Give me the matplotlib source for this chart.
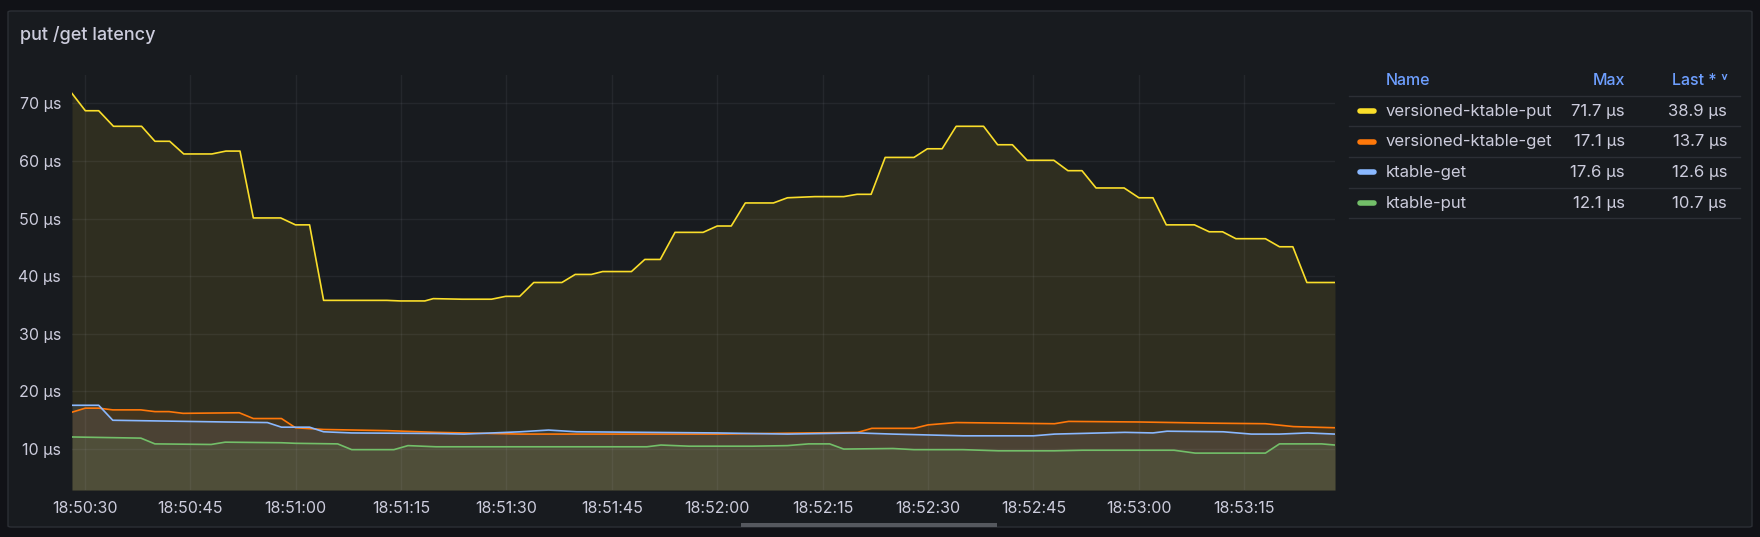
import datetime as dt
import matplotlib.pyplot as plt
import matplotlib.dates as mdates
from matplotlib.patches import FancyBboxPatch, Rectangle

# data: seconds after 18:50:30, value in microseconds
start = dt.datetime(2024, 1, 1, 18, 50, 30)

vput_t = [-1.8, 0.1, 2.0, 4.1, 8.1, 10.0, 12.1, 14.1, 18.1, 20.1, 22.1, 24.0, 27.9, 30.0, 32.0, 34.0,
          43.0, 44.9, 48.4, 49.6, 53.7, 57.9, 59.9, 61.9, 63.9, 67.9, 69.8, 72.1, 73.7, 77.8, 79.7, 81.9,
          84.0, 88.0, 90.0, 92.0, 94.0, 98.0, 100.0, 103.9, 108.0, 109.9, 111.9, 113.9, 118.0, 119.9, 122.0,
          124.0, 127.9, 129.9, 132.0, 134.1, 137.9, 139.9, 141.9, 143.9, 147.9, 150.0, 152.0, 153.9, 157.9,
          160.0, 161.9, 163.8, 168.0, 170.0, 171.9, 173.9, 177.9]
vput_v = [71.7, 68.7, 68.7, 66.0, 66.0, 63.4, 63.4, 61.2, 61.2, 61.7, 61.7, 50.1, 50.1, 48.9, 48.9, 35.8,
          35.8, 35.7, 35.7, 36.1, 36.0, 36.0, 36.5, 36.5, 38.9, 38.9, 40.3, 40.3, 40.8, 40.8, 42.9, 42.9,
          47.6, 47.6, 48.7, 48.7, 52.7, 52.7, 53.6, 53.8, 53.8, 54.2, 54.2, 60.6, 60.6, 62.1, 62.1,
          66.0, 66.0, 62.8, 62.8, 60.1, 60.1, 58.3, 58.3, 55.3, 55.3, 53.6, 53.6, 48.9, 48.9,
          47.7, 47.7, 46.5, 46.5, 45.1, 45.1, 38.9, 38.9]

vget_t = [-1.8, 0.1, 2.0, 4.0, 8.0, 10.0, 12.0, 14.0, 22.0, 24.0, 28.0, 30.0, 34.0, 43.0, 50.0, 62.0,
          90.0, 110.0, 112.0, 118.0, 120.0, 124.0, 138.0, 140.0, 150.0, 160.0, 168.0, 172.0, 177.9]
vget_v = [16.4, 17.1, 17.1, 16.8, 16.8, 16.5, 16.5, 16.2, 16.3, 15.3, 15.3, 13.7, 13.4, 13.2, 12.9, 12.6,
          12.6, 12.9, 13.6, 13.6, 14.2, 14.6, 14.4, 14.8, 14.7, 14.5, 14.4, 13.9, 13.7]

get_t = [-1.8, 2.0, 4.0, 20.0, 26.0, 28.0, 32.0, 34.0, 38.0, 50.0, 54.0, 62.0, 66.0, 70.0, 90.0, 100.0,
         110.0, 115.0, 125.0, 135.0, 138.0, 148.0, 152.0, 154.0, 162.0, 166.0, 170.0, 174.0, 177.9]
get_v = [17.6, 17.6, 15.0, 14.7, 14.6, 13.8, 13.8, 13.0, 12.8, 12.7, 12.6, 13.0, 13.3, 13.0, 12.8, 12.6,
         12.8, 12.6, 12.3, 12.3, 12.6, 12.9, 12.8, 13.1, 13.0, 12.6, 12.6, 12.8, 12.6]

put_t = [-1.8, 8.0, 10.0, 18.0, 20.0, 28.0, 30.0, 36.0, 38.0, 44.0, 46.0, 50.0, 80.0, 82.0, 86.0, 95.0,
         100.0, 103.0, 106.0, 108.0, 115.0, 118.0, 125.0, 130.0, 138.0, 142.0, 155.0, 158.0, 168.0, 170.0,
         176.0, 177.9]
put_v = [12.1, 11.9, 10.9, 10.8, 11.2, 11.1, 11.0, 10.9, 9.9, 9.9, 10.6, 10.4, 10.4, 10.7, 10.5, 10.5,
         10.6, 10.9, 10.9, 10.0, 10.1, 9.9, 9.9, 9.7, 9.7, 9.8, 9.8, 9.3, 9.3, 10.9, 10.9, 10.7]

names = ['versioned-ktable-put', 'versioned-ktable-get', 'ktable-get', 'ktable-put']
maxes = ['71.7 µs', '17.1 µs', '17.6 µs', '12.1 µs']
lasts = ['38.9 µs', '13.7 µs', '12.6 µs', '10.7 µs']
colors = ['#fade2a', '#ff780a', '#8ab8ff', '#73bf69']
series = [(vput_t, vput_v), (vget_t, vget_v), (get_t, get_v), (put_t, put_v)]

plt.rcParams['font.family'] = ['Inter', 'DejaVu Sans']
W, H = 1760, 537
fig = plt.figure(figsize=(W / 100, H / 100), dpi=100, facecolor='#111217')

# panel
panel = FancyBboxPatch((8 / W, 10 / H), 1744 / W, 516 / H, boxstyle='round,pad=0,rounding_size=0.002',
                       transform=fig.transFigure, facecolor='#181b1f', edgecolor='#2c2f35', lw=1, zorder=-10)
fig.patches.append(panel)
fig.text(20 / W, 1 - 35 / H, 'put /get latency', color='#ccccdc', fontsize=13, fontweight='medium', va='center')
fig.patches.append(Rectangle((741 / W, 10 / H), 256 / W, 4 / H, transform=fig.transFigure,
                             facecolor='#55585e', edgecolor='none', zorder=5))

ax = fig.add_axes([72 / W, 1 - 490 / H, (1335 - 72) / W, (490 - 75) / H])
ax.set_facecolor('none')
ymin = 2.9
for (t, v), c in zip(series, colors):
    x = [start + dt.timedelta(seconds=s) for s in t]
    ax.fill_between(x, ymin, v, color=c, alpha=0.1, lw=0)
    ax.plot(x, v, color=c, lw=1.2)

ax.set_xlim(start + dt.timedelta(seconds=-1.8), start + dt.timedelta(seconds=177.9))
ax.set_ylim(ymin, 74.9)
ax.set_yticks([10, 20, 30, 40, 50, 60, 70])
ax.set_yticklabels([f'{v} µs' for v in range(10, 80, 10)])
ax.xaxis.set_major_locator(mdates.SecondLocator(bysecond=[0, 15, 30, 45]))
ax.xaxis.set_major_formatter(mdates.DateFormatter('%H:%M:%S'))
ax.grid(color='#ccccdc', alpha=0.07, lw=1)
for s in ax.spines.values():
    s.set_visible(False)
ax.tick_params(colors='#ccccdc', labelsize=11.5, length=0, pad=8)

# legend table
hx = 1349 / W
fig.text(1386 / W, 1 - 80 / H, 'Name', color='#6e9fff', fontsize=11.5, fontweight='medium', va='center')
fig.text(1625 / W, 1 - 80 / H, 'Max', color='#6e9fff', fontsize=11.5, fontweight='medium', va='center', ha='right')
fig.text(1728 / W, 1 - 80 / H, 'Last * ˅', color='#6e9fff', fontsize=11.5, fontweight='medium', va='center', ha='right')
for yy in [96, 126, 157, 188, 218]:
    fig.add_artist(plt.Line2D([hx, 1740 / W], [1 - yy / H] * 2, color='#2c2f35', lw=1))
for i, (n, m, l, c) in enumerate(zip(names, maxes, lasts, colors)):
    y = 1 - (111 + i * 30.7) / H
    fig.add_artist(plt.Line2D([1360 / W, 1374 / W], [y, y], color=c, lw=4, solid_capstyle='round'))
    fig.text(1386 / W, y, n, color='#ccccdc', fontsize=12, va='center')
    fig.text(1625 / W, y, m, color='#ccccdc', fontsize=12, va='center', ha='right')
    fig.text(1727 / W, y, l, color='#ccccdc', fontsize=12, va='center', ha='right')

fig.savefig('out.png', dpi=100, facecolor=fig.get_facecolor())
